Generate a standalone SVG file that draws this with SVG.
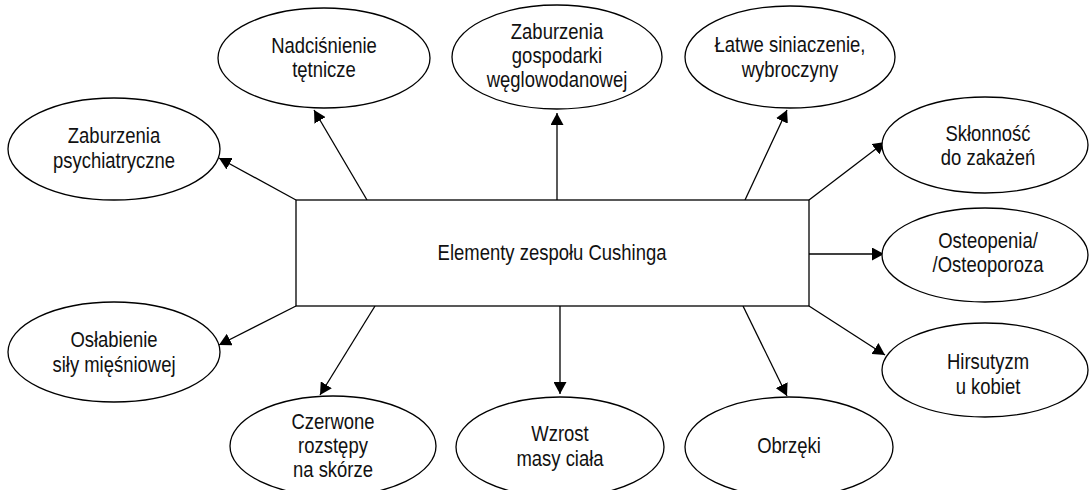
<svg xmlns="http://www.w3.org/2000/svg" width="1091" height="490" viewBox="0 0 1091 490">
<defs>
<marker id="arr" markerUnits="userSpaceOnUse" markerWidth="13" markerHeight="13" refX="12" refY="6.5" orient="auto">
<path d="M0,0 L12,6.5 L0,13 z" fill="#000"/>
</marker>
<style>
.n{fill:#fff;stroke:#000;stroke-width:1.3}
.t{font-family:"Liberation Sans",Arial,sans-serif;font-size:22px;fill:#111;text-anchor:middle}
.c line{stroke:#000;stroke-width:1.3;marker-end:url(#arr)}
</style>
</defs>
<rect width="1091" height="490" fill="#fff"/>
<g class="c" id="connectors">
<line x1="296" y1="200" x2="219" y2="158"/>
<line x1="367" y1="200" x2="314" y2="110"/>
<line x1="557" y1="200" x2="557" y2="113"/>
<line x1="745" y1="200" x2="787" y2="110"/>
<line x1="809" y1="200" x2="885" y2="142"/>
<line x1="809" y1="254" x2="884" y2="254"/>
<line x1="809" y1="306" x2="885" y2="355"/>
<line x1="296" y1="306" x2="219" y2="345"/>
<line x1="375" y1="306" x2="320" y2="395"/>
<line x1="560" y1="306" x2="560" y2="394"/>
<line x1="743" y1="306" x2="787" y2="396"/>
</g>
<g id="center"><rect class="n" x="296" y="200" width="513" height="106"/><g transform="translate(552,0) scale(0.84,1)"><text class="t" x="0" y="260">Elementy zespołu Cushinga</text></g></g>
<g id="nadcisnienie"><ellipse class="n" cx="324" cy="58" rx="106" ry="50"/><g transform="translate(324,0) scale(0.84,1)"><text class="t" x="0" y="53">Nadciśnienie</text><text class="t" x="0" y="77">tętnicze</text></g></g>
<g id="psych"><ellipse class="n" cx="114" cy="149" rx="106" ry="51"/><g transform="translate(114,0) scale(0.84,1)"><text class="t" x="0" y="143">Zaburzenia</text><text class="t" x="0" y="168">psychiatryczne</text></g></g>
<g id="gospodarki"><ellipse class="n" cx="557" cy="57" rx="105" ry="52"/><g transform="translate(557,0) scale(0.84,1)"><text class="t" x="0" y="39">Zaburzenia</text><text class="t" x="0" y="63">gospodarki</text><text class="t" x="0" y="87">węglowodanowej</text></g></g>
<g id="latwe"><ellipse class="n" cx="790" cy="57" rx="105" ry="51"/><g transform="translate(790,0) scale(0.84,1)"><text class="t" x="0" y="52">Łatwe siniaczenie,</text><text class="t" x="0" y="77">wybroczyny</text></g></g>
<g id="sklonnosc"><ellipse class="n" cx="985" cy="145" rx="103" ry="48"/><g transform="translate(988,0) scale(0.84,1)"><text class="t" x="0" y="141">Skłonność</text><text class="t" x="0" y="165">do zakażeń</text></g></g>
<g id="osteopenia"><ellipse class="n" cx="985" cy="255" rx="103" ry="47"/><g transform="translate(988,0) scale(0.84,1)"><text class="t" x="0" y="248">Osteopenia/</text><text class="t" x="0" y="272">/Osteoporoza</text></g></g>
<g id="hirsutyzm"><ellipse class="n" cx="985" cy="370" rx="103" ry="47"/><g transform="translate(988,0) scale(0.84,1)"><text class="t" x="0" y="369">Hirsutyzm</text><text class="t" x="0" y="394">u kobiet</text></g></g>
<g id="oslabienie"><ellipse class="n" cx="114" cy="352" rx="106" ry="50"/><g transform="translate(114,0) scale(0.84,1)"><text class="t" x="0" y="347">Osłabienie</text><text class="t" x="0" y="372">siły mięśniowej</text></g></g>
<g id="czerwone"><ellipse class="n" cx="333" cy="446" rx="103" ry="50"/><g transform="translate(333,0) scale(0.84,1)"><text class="t" x="0" y="429">Czerwone</text><text class="t" x="0" y="453">rozstępy</text><text class="t" x="0" y="477">na skórze</text></g></g>
<g id="wzrost"><ellipse class="n" cx="560" cy="447" rx="104" ry="50"/><g transform="translate(560,0) scale(0.84,1)"><text class="t" x="0" y="441">Wzrost</text><text class="t" x="0" y="466">masy ciała</text></g></g>
<g id="obrzeki"><ellipse class="n" cx="789" cy="447" rx="104" ry="50"/><g transform="translate(789,0) scale(0.84,1)"><text class="t" x="0" y="453">Obrzęki</text></g></g>
</svg>
